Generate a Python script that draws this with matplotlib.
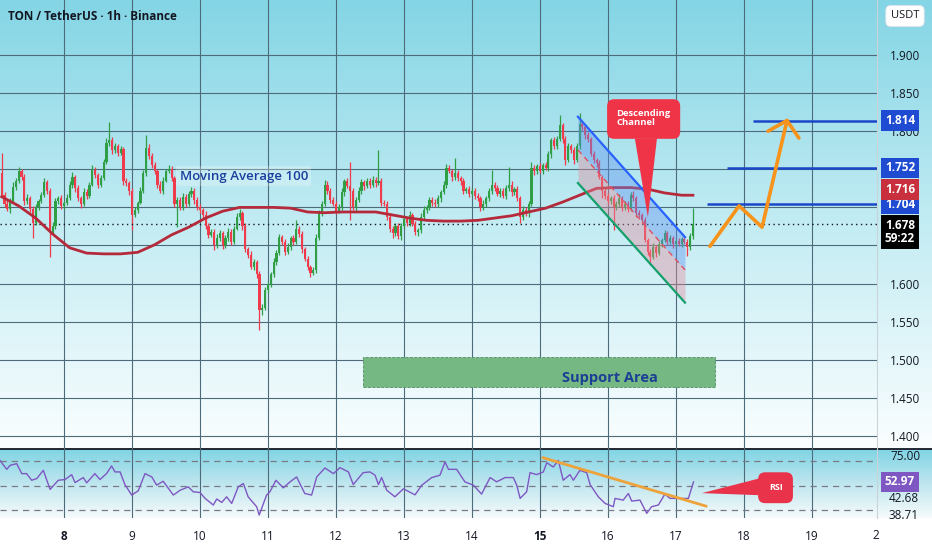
import numpy as np
import matplotlib.pyplot as plt
from matplotlib.colors import LinearSegmentedColormap
from matplotlib.patches import FancyBboxPatch, Polygon, Rectangle
from matplotlib.lines import Line2D

plt.rcParams['font.family'] = ['Open Sans', 'DejaVu Sans']

# hourly candles, hour 0 = Dec 8 00:00
first_hour = -22
first_open = 1.745
closes = [
    # Dec 7
    1.716, 1.705, 1.698, 1.709, 1.727, 1.735, 1.748, 1.740, 1.708, 1.712, 1.698,
    1.680, 1.700, 1.708, 1.716, 1.733, 1.722, 1.668, 1.676, 1.708, 1.712, 1.702,
    # Dec 8
    1.706, 1.712, 1.730, 1.740, 1.725, 1.712, 1.705, 1.720, 1.715, 1.730, 1.749, 1.742,
    1.730, 1.738, 1.760, 1.785, 1.788, 1.775, 1.780, 1.772, 1.776, 1.735, 1.732, 1.722,
    # Dec 9
    1.690, 1.697, 1.706, 1.722, 1.745, 1.778, 1.768, 1.755, 1.748, 1.730, 1.722, 1.735,
    1.748, 1.750, 1.738, 1.705, 1.710, 1.700, 1.714, 1.705, 1.718, 1.722, 1.710, 1.700,
    # Dec 10
    1.696, 1.690, 1.676, 1.664, 1.668, 1.650, 1.660, 1.666, 1.650, 1.660, 1.668, 1.655,
    1.672, 1.688, 1.692, 1.675, 1.645, 1.638, 1.622, 1.628, 1.612, 1.565, 1.568, 1.592,
    # Dec 11
    1.600, 1.612, 1.628, 1.640, 1.661, 1.655, 1.642, 1.648, 1.660, 1.655, 1.672, 1.665,
    1.645, 1.632, 1.622, 1.614, 1.618, 1.660, 1.693, 1.705, 1.730, 1.722, 1.710, 1.705,
    # Dec 12
    1.695, 1.700, 1.720, 1.734, 1.728, 1.722, 1.700, 1.710, 1.722, 1.733, 1.728, 1.735,
    1.730, 1.736, 1.732, 1.735, 1.706, 1.705, 1.688, 1.672, 1.666, 1.675, 1.662, 1.676,
    # Dec 13
    1.685, 1.680, 1.690, 1.678, 1.668, 1.670, 1.688, 1.697, 1.700, 1.710, 1.706, 1.704,
    1.712, 1.720, 1.730, 1.752, 1.748, 1.740, 1.745, 1.738, 1.735, 1.722, 1.724, 1.718,
    # Dec 14
    1.722, 1.715, 1.712, 1.700, 1.705, 1.712, 1.722, 1.730, 1.726, 1.718, 1.722, 1.715,
    1.725, 1.730, 1.720, 1.724, 1.712, 1.688, 1.697, 1.692, 1.705, 1.752, 1.748, 1.754,
    # Dec 15
    1.748, 1.755, 1.752, 1.770, 1.788, 1.780, 1.790, 1.808, 1.790, 1.762, 1.780, 1.775,
    1.762, 1.780, 1.810, 1.805, 1.795, 1.790, 1.770, 1.762, 1.758, 1.740, 1.722, 1.715,
    # Dec 16
    1.708, 1.712, 1.700, 1.705, 1.712, 1.700, 1.705, 1.698, 1.716, 1.712, 1.692, 1.690,
    1.683, 1.657, 1.642, 1.635, 1.648, 1.640, 1.652, 1.657, 1.666, 1.655, 1.660, 1.652,
    # Dec 17
    1.656, 1.652, 1.658, 1.655, 1.648, 1.662, 1.678,
]
# wick lengths above / below the body, in thousandths
wick_up = [
    26, 4, 5, 3, 6, 4, 5, 3, 4, 6, 3, 4, 5, 3, 4, 5, 3, 4, 5, 4, 3, 4,
    3, 5, 4, 6, 3, 4, 3, 5, 4, 3, 6, 4, 3, 5, 4, 6, 24, 4, 5, 3, 4, 3, 4, 3,
    3, 4, 3, 5, 4, 17, 5, 3, 4, 3, 4, 5, 3, 6, 4, 3, 4, 3, 5, 3, 4, 5, 3, 4,
    4, 3, 5, 3, 4, 3, 5, 4, 3, 4, 5, 3, 4, 5, 6, 3, 4, 3, 5, 4, 3, 4, 5, 4,
    4, 3, 5, 4, 4, 3, 4, 5, 3, 4, 11, 3, 4, 3, 4, 3, 4, 5, 4, 3, 6, 4, 3, 4,
    3, 4, 5, 3, 4, 31, 4, 3, 5, 4, 3, 4, 3, 5, 4, 40, 3, 4, 3, 4, 3, 5, 4, 3,
    4, 3, 5, 3, 4, 3, 4, 5, 3, 4, 3, 5, 4, 3, 4, 5, 4, 3, 20, 4, 3, 4, 3, 4,
    4, 3, 4, 3, 5, 3, 4, 19, 3, 4, 3, 4, 5, 23, 4, 3, 4, 3, 5, 4, 3, 8, 4, 3,
    4, 3, 5, 4, 3, 5, 4, 13, 3, 4, 5, 3, 4, 5, 14, 4, 3, 4, 3, 4, 3, 4, 3, 4,
    4, 3, 4, 3, 5, 3, 4, 3, 4, 5, 3, 4, 3, 4, 3, 4, 5, 3, 4, 3, 4, 3, 4, 3,
    3, 4, 3, 4, 3, 4, 21,
]
wick_dn = [
    3, 4, 3, 5, 2, 4, 3, 4, 5, 3, 4, 20, 3, 4, 2, 3, 4, 33, 3, 5, 3, 4,
    4, 3, 2, 4, 5, 3, 6, 3, 4, 3, 2, 4, 5, 3, 2, 3, 4, 5, 3, 4, 3, 5, 4, 6,
    20, 3, 4, 2, 3, 4, 5, 3, 4, 5, 3, 4, 2, 3, 4, 5, 31, 4, 3, 5, 3, 4, 5, 3,
    3, 4, 5, 4, 3, 6, 3, 4, 5, 3, 4, 5, 3, 2, 4, 5, 4, 5, 3, 4, 5, 26, 6, 3,
    5, 4, 3, 4, 3, 5, 4, 3, 4, 5, 3, 4, 5, 3, 4, 6, 3, 4, 3, 4, 3, 5, 4, 3,
    4, 3, 4, 5, 3, 39, 4, 5, 3, 4, 5, 3, 4, 3, 5, 3, 4, 3, 5, 4, 6, 3, 4, 5,
    3, 5, 4, 3, 4, 6, 3, 4, 5, 3, 4, 3, 4, 5, 3, 4, 3, 5, 4, 3, 5, 4, 3, 4,
    3, 4, 3, 5, 3, 4, 3, 4, 5, 3, 4, 3, 4, 3, 5, 4, 3, 8, 4, 3, 4, 3, 5, 4,
    3, 4, 3, 4, 5, 3, 4, 3, 5, 7, 3, 4, 5, 3, 4, 3, 5, 4, 3, 4, 5, 3, 10, 4,
    3, 4, 30, 3, 4, 5, 3, 4, 3, 4, 5, 3, 4, 3, 4, 10, 3, 5, 3, 4, 3, 4, 3, 5,
    4, 3, 4, 3, 12, 4, 3,
]

# Moving Average 100
ma_hours = [-22, -16, -10, -4, 2, 8, 14, 20, 26, 32, 38, 44, 50, 56, 62, 68, 74, 80,
            86, 92, 98, 104, 110, 116, 122, 128, 134, 140, 146, 152, 158, 164, 170,
            176, 182, 188, 194, 200, 206, 212, 218, 222]
ma_values = [1.714, 1.702, 1.686, 1.665, 1.647, 1.640, 1.639, 1.639, 1.641, 1.651,
             1.664, 1.674, 1.686, 1.695, 1.700, 1.700, 1.700, 1.699, 1.694, 1.693,
             1.694, 1.694, 1.694, 1.690, 1.686, 1.683, 1.682, 1.682, 1.683, 1.686,
             1.689, 1.694, 1.699, 1.707, 1.716, 1.725, 1.726, 1.726, 1.724, 1.719,
             1.716, 1.716]

# RSI (14)
rsi_hours = [-22.6, -20.2, -19, -16.7, -14.9, -13.2, -11.4, -9.6, -7.3, -4.9, -3.8, -2,
             0.4, 2.7, 3.9, 6.8, 8, 10.9, 12.7, 15, 16.8, 18, 19.8, 21.5, 23.9, 26.2,
             28.6, 31, 32.7, 35, 38.6, 41, 43.9, 45.6, 48, 49.8, 52.7, 53.9, 55.7,
             57.4, 59.2, 61.5, 63.3, 65, 68, 68.9, 71.5, 72.7, 74.8, 77.4, 79.8, 82.1,
             85, 87.4, 89.2, 92.1, 95.1, 97.4, 100.4, 102.1, 104.5, 105.6, 108, 109.8,
             111, 112.1, 113.9, 116.8, 119.8, 123.9, 126.3, 129.8, 132.7, 134.5, 135.7,
             138.6, 141.5, 144.5, 147.4, 150.4, 152.7, 155.7, 158.6, 159.8, 161, 163.3,
             164.5, 166.8, 169.2, 170.4, 172.7, 174.5, 176.2, 178.6, 179.8, 182.1,
             184.5, 185.7, 188.6, 191, 193.9, 194.5, 197.4, 199.2, 200.4, 203.3, 205.7,
             207.4, 209.8, 212.1, 213.9, 217.4, 220.4, 222.2]
rsi_values = [70.5, 63.2, 66.5, 67.8, 59.7, 59.7, 54.3, 55.7, 62.4, 46.8, 49.7, 54.3,
              54.9, 58.9, 52.4, 56.5, 52.2, 59.7, 54.9, 59.7, 66.0, 61.1, 61.1, 50.8,
              42.2, 45.7, 59.7, 57.0, 50.3, 53.5, 42.2, 46.2, 48.9, 44.9, 44.3, 39.5,
              34.1, 39.0, 36.2, 40.8, 35.4, 48.9, 51.6, 40.8, 32.7, 25.9, 42.2, 44.9,
              54.3, 48.1, 53.0, 57.0, 43.5, 42.2, 57.0, 64.3, 59.7, 64.6, 61.1, 50.8,
              57.5, 60.5, 61.1, 58.4, 50.8, 56.5, 46.2, 40.8, 47.3, 42.4, 50.3, 56.5,
              58.4, 69.2, 63.2, 63.2, 53.0, 50.3, 43.0, 56.5, 53.0, 56.5, 56.5, 50.3,
              39.5, 44.9, 60.5, 58.9, 61.1, 68.6, 65.1, 70.5, 54.3, 58.9, 54.3, 62.4,
              60.5, 50.8, 40.8, 35.4, 32.7, 39.5, 38.1, 43.5, 37.3, 38.1, 27.3, 32.7,
              34.1, 43.0, 39.5, 39.5, 39.5, 52.97]

day_ticks = [0, 24, 48, 72, 96, 120, 144, 168, 192, 216, 240, 264]
day_labels = ['8', '9', '10', '11', '12', '13', '14', '15', '16', '17', '18', '19']
price_ticks = [1.40, 1.45, 1.50, 1.55, 1.60, 1.65, 1.70, 1.75, 1.80, 1.85, 1.90]
# 1.650 / 1.700 / 1.750 sit under the value boxes and are not readable
price_labels = ['1.400', '1.450', '1.500', '1.550', '1.600', '', '', '', '1.800', '1.850', '1.900']

last_price = 1.678
ma_last = 1.716
rsi_last = 52.97

target_levels = [1.814, 1.752, 1.704]
target_start = [243.2, 234.0, 227.0]

channel_hours = [181.4, 219.2]
channel_upper = [1.819, 1.661]
channel_lower = [1.732, 1.575]

path_hours = [228.0, 238.3, 246.4, 255.2]
path_prices = [1.649, 1.702, 1.674, 1.814]
head_hours = [248.5, 255.2, 259.4]
head_prices = [1.800, 1.814, 1.791]

support_hours = [105.5, 229.8]
support_prices = [1.464, 1.504]

rsi_trend_hours = [169.1, 226.6]
rsi_trend_values = [72.7, 33.2]

# ---------------------------------------------------------------
closes = np.array(closes)
hours = np.arange(first_hour, first_hour + len(closes))
opens = np.concatenate([[first_open], closes[:-1]])
highs = np.maximum(opens, closes) + np.array(wick_up) / 1000
lows = np.minimum(opens, closes) - np.array(wick_dn) / 1000
rising = closes >= opens

W, H = 932, 550
fig = plt.figure(figsize=(W / 100, H / 100), dpi=100)
fig.patch.set_facecolor('white')


def px_box(x0, y0, x1, y1):
    return [x0 / W, 1 - y1 / H, (x1 - x0) / W, (y1 - y0) / H]


def gradient(rect, colours):
    bg = fig.add_axes(rect, zorder=0)
    cmap = LinearSegmentedColormap.from_list('bg', colours[::-1])
    bg.imshow(np.linspace(0, 1, 256).reshape(-1, 1), aspect='auto', cmap=cmap,
              origin='lower', extent=[0, 1, 0, 1])
    bg.set_axis_off()


gradient(px_box(0, 0, W, 449), ['#84d5e5', '#c3ecf3', '#fbfeff'])
gradient(px_box(0, 449, W, 518), ['#80d4e4', '#bfe6ef', '#f6fbfc'])

XLIM = (-22.59, 286.97)
ink = '#131722'
grid_col = (0.3, 0.42, 0.48, 0.10)

# ---------------- price pane ----------------
ax = fig.add_axes(px_box(0, 0, 877, 449), zorder=2)
ax.set_facecolor('none')
ax.set_xlim(*XLIM)
ax.set_ylim(1.3829, 1.9722)
ax.set_xticks(day_ticks)
ax.set_yticks(price_ticks)
ax.grid(True, color=grid_col, lw=0.8)
ax.tick_params(axis='x', length=0, labelbottom=False)
ax.yaxis.tick_right()
ax.tick_params(axis='y', length=0, pad=9.5, labelsize=8.5, labelcolor=ink)
ax.set_yticklabels(price_labels)
for s in ax.spines.values():
    s.set_visible(False)

# support area
sup = Rectangle((support_hours[0], support_prices[0]), support_hours[1] - support_hours[0],
                support_prices[1] - support_prices[0], fc='#76b884', ec='#4e8f5d',
                lw=0.6, ls='--', zorder=2)
ax.add_patch(sup)
ax.text(192.7, 1.476, 'Support Area', color='#1c3f95', fontsize=10.5,
        fontweight='bold', ha='center', va='center', zorder=3)

# candles
col = np.where(rising, '#2f9e44', '#ef3b4b')
ax.vlines(hours, lows, highs, color=col, lw=0.9, zorder=3)
ax.bar(hours, np.maximum(np.abs(closes - opens), 0.0012), bottom=np.minimum(opens, closes),
       width=0.74, color=col, lw=0, zorder=4)

# moving average
ax.plot(ma_hours, ma_values, color='#b52a3b', lw=2, zorder=5)
ax.text(63.5, 1.741, 'Moving Average 100', color='#1c3f9e', fontsize=9.5,
        fontweight='semibold', ha='center', va='center', zorder=6,
        bbox=dict(boxstyle='square,pad=0.25', fc='white', alpha=0.25, ec='none'))

# current price line
ax.axhline(last_price, color=ink, lw=1, ls=(0, (1, 2.5)), zorder=3)

# descending channel
ch_t = np.array(channel_hours)
ch_up = np.array(channel_upper)
ch_lo = np.array(channel_lower)
ch_mid = (ch_up + ch_lo) / 2
ax.fill_between(ch_t, ch_mid, ch_up, color='#5d8ff0', alpha=0.4, lw=0, zorder=5)
ax.fill_between(ch_t, ch_lo, ch_mid, color='#e48a9c', alpha=0.4, lw=0, zorder=5)
ax.plot(ch_t, ch_up, color='#2962ff', lw=1.6, zorder=6)
ax.plot(ch_t, ch_lo, color='#13a06b', lw=1.6, zorder=6)
ax.plot(ch_t, ch_mid, color='#e0505e', lw=1, ls=(0, (4, 3)), zorder=6)

# callout
asp = (1 / 762) / (1 / 2.8333)
ax.add_patch(FancyBboxPatch((191.7, 1.790), 25.8, 0.052,
                            boxstyle='round,pad=0,rounding_size=2.5', mutation_aspect=asp,
                            fc='#f03448', ec='none', zorder=7))
ax.add_patch(Polygon([(201.5, 1.7905), (209.3, 1.7905), (206.1, 1.687)], closed=True,
                     fc='#f03448', ec='none', zorder=7))
ax.text(204.6, 1.817, 'Descending\nChannel', color='white', fontsize=6.8, fontweight='bold',
        ha='center', va='center', multialignment='left', zorder=8, linespacing=1.0)

# targets and projected path
ax.hlines(target_levels, target_start, XLIM[1], color='#1a47c8', lw=1.8, zorder=5)
ax.plot(path_hours, path_prices, color='#f7931a', lw=2.6, zorder=6, solid_capstyle='round')
ax.plot(head_hours, head_prices, color='#f7931a', lw=2.6, zorder=6, solid_capstyle='round')

# right-hand price labels
ytr = ax.get_yaxis_transform()
for lvl in target_levels:
    ax.text(1.0262, lvl, f'{lvl:.3f}', transform=ytr, ha='center', va='center', color='white',
            fontsize=8.5, fontweight='bold', zorder=10, clip_on=False,
            bbox=dict(boxstyle='square,pad=0.3', fc='#1e4bd2', ec='none'))
ax.text(1.0262, 1.7235, f'{ma_last:.3f}', transform=ytr, ha='center', va='center', color='white',
        fontsize=8.5, fontweight='bold', zorder=10, clip_on=False,
        bbox=dict(boxstyle='square,pad=0.3', fc='#c8303d', ec='none'))
ax.annotate(f'{last_price:.3f}\n59:22', xy=(1.0262, last_price), xycoords=ytr,
            xytext=(0, -5.5), textcoords='offset points', ha='center', va='center',
            color='white', fontsize=8.5, fontweight='bold', zorder=10, annotation_clip=False,
            linespacing=1.05, bbox=dict(boxstyle='square,pad=0.3', fc='black', ec='none'))

# ---------------- RSI pane ----------------
ax2 = fig.add_axes(px_box(0, 449, 877, 518), zorder=2)
ax2.set_facecolor('none')
ax2.set_xlim(*XLIM)
ax2.set_ylim(23.5, 79.8)
ax2.set_xticks(day_ticks)
ax2.set_xticklabels(day_labels)
ax2.grid(True, axis='x', color=grid_col, lw=0.8)
ax2.tick_params(axis='x', length=0, pad=9, labelsize=8.5, labelcolor=ink)
for lab in ax2.get_xticklabels():
    if lab.get_text() in ('8', '15'):
        lab.set_fontweight('bold')
ax2.yaxis.tick_right()
ax2.set_yticks([75])
ax2.set_yticklabels(['75.00'])
ax2.tick_params(axis='y', length=0, pad=9.5, labelsize=8.5, labelcolor=ink)
for s in ax2.spines.values():
    s.set_visible(False)

for lvl in (70, 50, 30):
    ax2.axhline(lvl, color='#787b86', lw=0.9, ls=(0, (5, 4)), zorder=2)
ax2.plot(rsi_hours, rsi_values, color='#7e57c2', lw=1, zorder=4)
ax2.plot(rsi_trend_hours, rsi_trend_values, color='#eda23a', lw=2, zorder=5)

asp2 = (1 / 1.2256) / (1 / 2.8333)
ax2.add_patch(FancyBboxPatch((245.0, 35.6), 12.3, 25.2,
                             boxstyle='round,pad=0,rounding_size=2.5', mutation_aspect=asp2,
                             fc='#e8334a', ec='none', zorder=6))
ax2.add_patch(Polygon([(245.6, 55.9), (245.6, 42.1), (225.2, 43.8)], closed=True,
                      fc='#e8334a', ec='none', zorder=6))
ax2.text(251.2, 48.4, 'RSI', color='white', fontsize=6.5, fontweight='bold',
         ha='center', va='center', zorder=7)

ytr2 = ax2.get_yaxis_transform()
ax2.text(1.0262, rsi_last, f'{rsi_last:.2f}', transform=ytr2, ha='center', va='center',
         color='white', fontsize=8.5, fontweight='bold', zorder=10, clip_on=False,
         bbox=dict(boxstyle='square,pad=0.3', fc='#7e57c2', ec='none'))
ax2.text(1.0302, 39.6, '42.68', transform=ytr2, ha='center', va='center', color=ink,
         fontsize=8.5, clip_on=False)
ax2.text(1.0302, 25.6, '38.71', transform=ytr2, ha='center', va='center', color=ink,
         fontsize=8.5, clip_on=False)
ax2.text(286.6, -0.25, '2', transform=ax2.get_xaxis_transform(), ha='center', va='center',
         color=ink, fontsize=8.5, clip_on=False)

# frame lines, title, currency box
fig.add_artist(Line2D([0, 1], [1 - 449 / H] * 2, color=ink, lw=1.3))
fig.add_artist(Line2D([877 / W] * 2, [1 - 518 / H, 1], color='#c9d3d8', lw=0.8))
fig.text(8 / W, 1 - 16 / H, 'TON / TetherUS · 1h · Binance', fontsize=8.5,
         fontweight='bold', color=ink, va='center')
fig.text(905 / W, 1 - 16 / H, 'USDT', ha='center', va='center', fontsize=8, color=ink,
         bbox=dict(boxstyle='round,pad=0.45', fc='white', ec='#e0e3eb', lw=0.6))

fig.savefig('out.png', dpi=100)
